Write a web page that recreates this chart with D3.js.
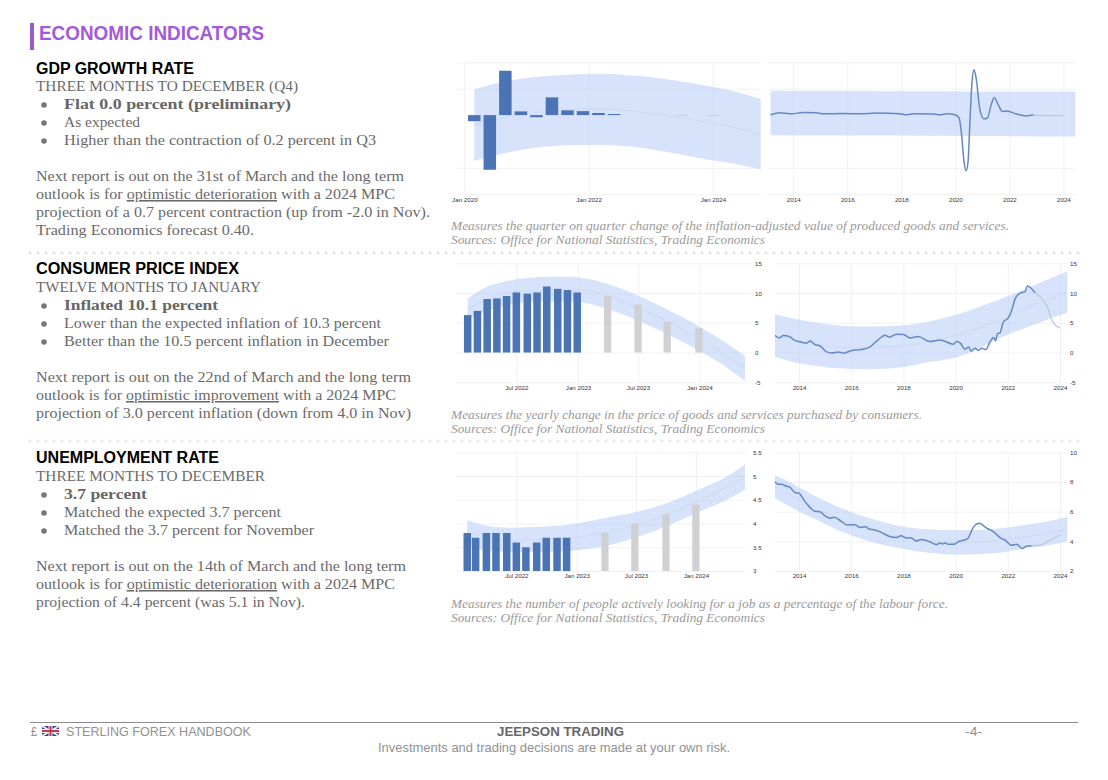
<!DOCTYPE html>
<html><head><meta charset="utf-8">
<script src="https://cdn.jsdelivr.net/npm/d3@7/dist/d3.min.js"></script>
<style>
html,body{margin:0;padding:0;background:#fff;overflow:hidden}
svg{display:block}
.tick text{font-family:"Liberation Sans",sans-serif;fill:#3a3340}
</style></head><body>
<svg id="page" width="1108" height="780"></svg>
<script>
// ---------- GDP ----------
const gdpBarYears=[2020.16,2020.41,2020.66,2020.91,2021.16,2021.41,2021.66,2021.91,2022.16,2022.41];
const gdpBarValues=[-2.3,-20.7,16.8,1.4,-0.8,6.7,1.8,1.5,0.8,0.4];
const gdpForecastYears=[2023.49,2024.0];
const gdpForecastValues=[-0.35,-0.35];
const gdpBandLeftYears=[2020.16,2020.58,2021.11,2021.65,2022.19,2022.73,2023.26,2023.80,2024.34,2024.77];
const gdpBandLeftUpper=[9.6,12.4,14.3,15.3,15.7,15.0,13.6,11.5,9.0,6.1];
const gdpBandLeftLower=[-17.3,-14.8,-12.5,-11.4,-11.2,-12.1,-14.0,-16.3,-18.4,-20.6];
const gdpTrendLeftYears=[2020.16,2021.11,2022.19,2023.26,2024.34,2024.77];
const gdpTrendLeftValues=[-3.8,0.9,2.3,-0.3,-4.7,-7.2];
const gdpLineYears=[2013.16,2013.51,2013.94,2014.37,2014.86,2015.11,2015.85,2016.47,2017.09,2017.95,2018.2,2018.44,2019.19,2019.44,2019.68,2019.99,2020.14,2020.23,2020.32,2020.4,2020.47,2020.54,2020.62,2020.69,2020.77,2020.91,2021.06,2021.19,2021.31,2021.44,2021.59,2021.74,2021.9,2022.27,2022.64,2022.89];
const gdpLineValues=[0.1,0.9,0.5,1.0,0.9,0.5,0.6,0.5,0.8,0.5,0.1,0.5,0.4,0.1,0.5,0.1,-1.1,-7.4,-17.6,-21.1,-17.6,-2.4,12.8,17.2,14,2.0,-1.4,-1.1,3.3,6.7,3.9,1.4,1.6,0.4,-0.3,0.1];
const gdpLineForecastYears=[2022.89,2024.01];
const gdpLineForecastValues=[-0.1,-0.25];
const gdpBandRightYears=[2013.16,2016,2019,2022,2024.44];
const gdpBandRightUpper=[9.2,9.1,9.0,8.9,8.9];
const gdpBandRightLower=[-7.6,-7.7,-7.8,-8.0,-8.1];
const gdpXLabelsLeft=[[2020,"Jan 2020"],[2022,"Jan 2022"],[2024,"Jan 2024"]];
// ---------- CPI ----------
const cpiBarYears=[2022.10,2022.18,2022.26,2022.34,2022.42,2022.5,2022.59,2022.67,2022.75,2022.84,2022.92,2023.0];
const cpiBarValues=[6.3,7.0,9.0,9.1,9.5,10.1,9.9,10.1,11.1,10.7,10.5,10.1];
const cpiForecastYears=[2023.25,2023.5,2023.74,2024.0];
const cpiForecastValues=[9.5,8.1,5.2,4.1];
const cpiBandLeftYears=[2022.10,2022.23,2022.37,2022.50,2022.67,2022.86,2023.05,2023.24,2023.46,2023.74,2024.01,2024.23,2024.38];
const cpiBandLeftUpper=[9.08,10.76,11.76,12.32,12.66,12.77,12.55,11.6,9.92,7.23,4.31,1.51,-0.62];
const cpiBandLeftLower=[5.55,6.72,7.68,8.24,8.52,8.63,8.35,7.39,5.71,3.08,0.22,-2.52,-4.82];
const cpiTrendLeftYears=[2022.10,2022.5,2023.05,2023.46,2024.01,2024.38];
const cpiTrendLeftValues=[7.3,10.3,10.45,7.8,2.25,-2.7];
const cpiLineYears=[2013.08,2013.25,2013.40,2013.66,2013.78,2014.10,2014.29,2014.42,2014.61,2014.80,2015.06,2015.25,2015.51,2015.70,2016.02,2016.27,2016.46,2016.72,2017.04,2017.29,2017.46,2017.74,2018.00,2018.25,2018.57,2019.02,2019.40,2019.91,2020.04,2020.17,2020.36,2020.51,2020.59,2020.74,2020.87,2021.00,2021.16,2021.32,2021.45,2021.54,2021.60,2021.70,2021.83,2022.02,2022.15,2022.28,2022.49,2022.66,2022.75,2023.04];
const cpiLineValues=[2.86,2.46,2.86,2.63,2.18,1.74,1.57,1.96,1.34,1.12,0.11,-0.06,0.11,-0.11,0.34,0.45,0.56,0.95,2.18,2.91,2.58,3.08,3.03,2.46,2.69,1.85,2.13,1.40,1.85,1.62,0.56,0.95,0.22,0.73,0.39,0.73,0.50,1.79,2.52,1.96,3.19,3.31,5.15,5.83,7.11,9.02,10.03,10.2,11.2,10.08];
const cpiLineForecastYears=[2023.04,2023.30,2023.51,2023.72,2024.00];
const cpiLineForecastValues=[10.08,9.08,7.68,5.15,4.09];
const cpiBandRightYears=[2013.08,2013.78,2014.68,2015.70,2016.72,2017.87,2018.89,2020.17,2020.81,2021.45,2022.72,2023.62,2024.28];
const cpiBandRightUpper=[6.44,5.71,4.99,4.48,4.37,4.54,5.15,6.55,7.51,8.52,10.76,12.44,13.67];
const cpiBandRightLower=[-0.73,-1.57,-2.24,-2.69,-2.80,-2.52,-1.68,-0.62,0.56,1.96,4.20,5.71,6.67];
const cpiTrendRightYears=[2013.08,2015.7,2016.72,2018.89,2020.81,2022.72,2024.28];
const cpiTrendRightValues=[2.86,0.9,0.8,1.75,4.0,7.5,10.2];
const halfYearLabelsCpi=[[2022.5,"Jul 2022"],[2023.007,"Jan 2023"],[2023.5,"Jul 2023"],[2024.005,"Jan 2024"]];
const cpiYTicks=[-5,0,5,10,15];
// ---------- Unemployment ----------
const unempBarYears=[2022.09,2022.16,2022.25,2022.33,2022.42,2022.5,2022.58,2022.67,2022.75,2022.84,2022.92];
const unempBarValues=[3.8,3.7,3.8,3.8,3.8,3.6,3.5,3.6,3.7,3.7,3.7];
const unempForecastYears=[2023.24,2023.49,2023.75,2024.0];
const unempForecastValues=[3.8,4.0,4.2,4.4];
const unempBandLeftYears=[2022.09,2022.22,2022.36,2022.50,2022.67,2022.95,2023.25,2023.48,2023.76,2024.03,2024.26,2024.41];
const unempBandLeftUpper=[4.07,3.97,3.92,3.91,3.93,3.98,4.12,4.23,4.43,4.72,4.99,5.25];
const unempBandLeftLower=[3.53,3.44,3.41,3.40,3.40,3.42,3.53,3.69,3.95,4.25,4.50,4.71];
const unempTrendLeftYears=[2022.09,2022.5,2022.95,2023.48,2024.03,2024.41];
const unempTrendLeftValues=[3.8,3.65,3.7,3.96,4.48,4.98];
const unempLineYears=[2013.08,2013.17,2013.34,2013.53,2013.66,2013.85,2014.01,2014.17,2014.42,2014.61,2014.80,2015.00,2015.19,2015.34,2015.63,2015.85,2016.15,2016.34,2016.57,2016.66,2016.91,2017.23,2017.42,2017.74,2017.90,2018.13,2018.32,2018.48,2018.70,2019.02,2019.27,2019.40,2019.50,2019.59,2019.72,2019.94,2020.13,2020.30,2020.46,2020.68,2020.91,2021.19,2021.45,2021.70,2021.89,2022.15,2022.34,2022.56,2022.72,2022.91];
const unempLineValues=[8.02,7.87,7.84,7.71,7.64,7.28,7.24,6.83,6.29,6.02,6.00,5.71,5.55,5.62,5.33,5.10,5.12,4.94,4.98,4.85,4.76,4.54,4.36,4.25,4.38,4.22,4.22,4.02,4.13,3.96,3.78,3.89,3.82,3.89,3.80,3.80,4.0,4.07,4.18,4.94,5.21,4.89,4.65,4.25,4.09,3.73,3.80,3.51,3.69,3.71];
const unempLineForecastYears=[2022.91,2023.23,2023.62,2024.0];
const unempLineForecastValues=[3.71,3.75,4.09,4.43];
const unempBandRightYears=[2013.08,2013.78,2014.68,2015.70,2016.72,2017.87,2018.89,2020.17,2021.45,2022.72,2023.62,2024.28];
const unempBandRightUpper=[8.47,7.87,7.01,6.18,5.55,5.03,4.81,4.74,4.83,5.12,5.37,5.64];
const unempBandRightLower=[6.90,6.22,5.44,4.61,3.98,3.53,3.24,3.10,3.19,3.53,3.75,4.02];
const unempTrendRightYears=[2013.08,2015.7,2017.87,2020.17,2022.72,2024.28];
const unempTrendRightValues=[7.7,5.4,4.3,3.95,4.3,4.85];
const halfYearLabelsUnemp=[[2022.5,"Jul 2022"],[2023.004,"Jan 2023"],[2023.5,"Jul 2023"],[2024.0,"Jan 2024"]];
const unempYTicksLeft=[3,3.5,4,4.5,5,5.5];
const unempYTicksRight=[2,4,6,8,10];
// ---------- shared tick labels ----------
const yearLabels=[[2014,"2014"],[2016,"2016"],[2018,"2018"],[2020,"2020"],[2022,"2022"],[2024,"2024"]];
const gdpYTicks=[-30,-20,10,20];

// ---------- text ----------
const sectionTitle="ECONOMIC INDICATORS";
const headings=[["GDP GROWTH RATE",36,194,73.7],["CONSUMER PRICE INDEX",36,239,273.7],["UNEMPLOYMENT RATE",36,219,462.7]];
const bodyLines=[
 ["THREE MONTHS TO DECEMBER (Q4)",36,298,91],
 ["TWELVE MONTHS TO JANUARY",36,261,292],
 ["THREE MONTHS TO DECEMBER",36,265,481],
 ["As expected",64,140,127],
 ["Higher than the contraction of 0.2 percent in Q3",64,376,145],
 ["Lower than the expected inflation of 10.3 percent",64,381,328],
 ["Better than the 10.5 percent inflation in December",64,389,346],
 ["Matched the expected 3.7 percent",64,281,517],
 ["Matched the 3.7 percent for November",64,314,535],
 ["Next report is out on the 31st of March and the long term",36,404,181],
 ["projection of a 0.7 percent contraction (up from -2.0 in Nov).",36,430,217],
 ["Trading Economics forecast 0.40.",36,254,235],
 ["Next report is out on the 22nd of March and the long term",36,411,382],
 ["projection of 3.0 percent inflation (down from 4.0 in Nov)",36,411,418],
 ["Next report is out on the 14th of March and the long term",36,406,571],
 ["projection of 4.4 percent (was 5.1 in Nov).",36,305,607]
];
const boldLines=[["Flat 0.0 percent (preliminary)",64,291,109],["Inflated 10.1 percent",64,218,310],["3.7 percent",64,147,499]];
const bulletYs=[105,123,141,306,324,342,495,513,531];
const outlookLines=[
 ["outlook is for ","optimistic deterioration"," with a 2024 MPC",36,395,199],
 ["outlook is for ","optimistic improvement"," with a 2024 MPC",36,396,400],
 ["outlook is for ","optimistic deterioration"," with a 2024 MPC",36,395,589]
];
const captions=[
 ["Measures the quarter on quarter change of the inflation-adjusted value of produced goods and services.",1009,230],
 ["Sources: Office for National Statistics, Trading Economics",765,244],
 ["Measures the yearly change in the price of goods and services purchased by consumers.",922,419],
 ["Sources: Office for National Statistics, Trading Economics",765,433],
 ["Measures the number of people actively looking for a job as a percentage of the labour force.",948,608],
 ["Sources: Office for National Statistics, Trading Economics",765,622]
];

const zip=(xs,ys)=>xs.map((x,i)=>[x,ys[i]]);
const charts=[
 {xd:[2019.877,2024.77],xr:[456.7,760.7],yd:[-30,20],yr:[194.3,62.3],xl:gdpXLabelsLeft,yt:gdpYTicks,
  by:gdpBandLeftYears,bu:gdpBandLeftUpper,bl:gdpBandLeftLower,tr:zip(gdpTrendLeftYears,gdpTrendLeftValues),
  bars:zip(gdpBarYears,gdpBarValues),fc:zip(gdpForecastYears,gdpForecastValues),bw:12.5,fw:12.5},
 {xd:[2013.04,2024.44],xr:[767.3,1075.3],yd:[-30,20],yr:[194.3,62.3],xl:yearLabels,yt:gdpYTicks,
  by:gdpBandRightYears,bu:gdpBandRightUpper,bl:gdpBandRightLower,
  line:zip(gdpLineYears,gdpLineValues),lf:zip(gdpLineForecastYears,gdpLineForecastValues)},
 {xd:[2022.004,2024.434],xr:[456,751.7],yd:[-5,15],yr:[382.3,263.3],xl:halfYearLabelsCpi,yt:cpiYTicks,lab:755,
  by:cpiBandLeftYears,bu:cpiBandLeftUpper,bl:cpiBandLeftLower,tr:zip(cpiTrendLeftYears,cpiTrendLeftValues),
  bars:zip(cpiBarYears,cpiBarValues),fc:zip(cpiForecastYears,cpiForecastValues),bw:7.5,fw:7.3},
 {xd:[2013.08,2024.28],xr:[775,1067.3],yd:[-5,15],yr:[382.3,263.3],xl:yearLabels,yt:cpiYTicks,lab:1070,
  by:cpiBandRightYears,bu:cpiBandRightUpper,bl:cpiBandRightLower,tr:zip(cpiTrendRightYears,cpiTrendRightValues),
  line:zip(cpiLineYears,cpiLineValues),lf:zip(cpiLineForecastYears,cpiLineForecastValues)},
 {xd:[2021.996,2024.416],xr:[456,745.7],yd:[3,5.5],yr:[571,452.3],xl:halfYearLabelsUnemp,yt:unempYTicksLeft,lab:753,
  by:unempBandLeftYears,bu:unempBandLeftUpper,bl:unempBandLeftLower,tr:zip(unempTrendLeftYears,unempTrendLeftValues),
  bars:zip(unempBarYears,unempBarValues),fc:zip(unempForecastYears,unempForecastValues),bw:7.5,fw:7.3},
 {xd:[2013.08,2024.28],xr:[775,1067.3],yd:[2,10],yr:[571,452.3],xl:yearLabels,yt:unempYTicksRight,lab:1070,
  by:unempBandRightYears,bu:unempBandRightUpper,bl:unempBandRightLower,tr:zip(unempTrendRightYears,unempTrendRightValues),
  line:zip(unempLineYears,unempLineValues),lf:zip(unempLineForecastYears,unempLineForecastValues)}
];

const svg=d3.select("#page");
const BLUE="#4a74b4",BAND="#b7cdf6",LINE="#6489c2",GRID="#eeeeee";

charts.forEach(c=>{
  const g=svg.append("g");
  const x=d3.scaleLinear().domain(c.xd).range(c.xr);
  const y=d3.scaleLinear().domain(c.yd).range(c.yr);
  const h=c.yr[0]-c.yr[1], w=c.xr[1]-c.xr[0];
  const xVals=c.xl.map(d=>d[0]);
  // grid
  const gx=g.append("g").attr("transform",`translate(0,${c.yr[0]})`)
    .call(d3.axisBottom(x).tickValues(xVals).tickSizeInner(-h).tickSizeOuter(0).tickPadding(3)
      .tickFormat((d,i)=>c.xl[i][1]));
  gx.select(".domain").remove();
  gx.selectAll("line").attr("stroke",GRID).attr("stroke-width",0.8);
  gx.selectAll("text").attr("font-size",6.2);
  const gy=g.append("g").attr("transform",`translate(${c.xr[0]},0)`)
    .call(d3.axisRight(y).tickValues(c.yt).tickSizeInner(w).tickSizeOuter(0).tickFormat(""));
  gy.select(".domain").remove();
  gy.selectAll("line").attr("stroke",GRID).attr("stroke-width",0.8);
  if(c.lab){
    const ly=g.append("g").attr("transform",`translate(${c.lab},0)`)
      .call(d3.axisRight(y).tickValues(c.yt).tickSize(0).tickPadding(0).tickFormat(d=>String(d)));
    ly.select(".domain").remove();
    ly.selectAll("text").attr("font-size",6.2);
  }
  // band
  const area=d3.area().x(d=>x(d.x)).y0(d=>y(d.l)).y1(d=>y(d.u)).curve(d3.curveMonotoneX);
  g.append("path").datum(c.by.map((v,i)=>({x:v,u:c.bu[i],l:c.bl[i]})))
    .attr("d",area).attr("fill",BAND).attr("fill-opacity",0.56);
  const ln=d3.line().x(d=>x(d[0])).y(d=>y(d[1])).curve(d3.curveMonotoneX);
  if(c.tr) g.append("path").datum(c.tr).attr("d",ln).attr("fill","none").attr("stroke","#cbd8f0").attr("stroke-width",0.8);
  // bars
  const base=y(c.yd[0]<0?0:c.yd[0]);
  const bar=(arr,bw,fill,op)=>g.append("g").selectAll("rect").data(arr).join("rect")
    .attr("x",d=>x(d[0])-bw/2).attr("width",bw)
    .attr("y",d=>Math.min(y(d[1]),base))
    .attr("height",d=>Math.abs(y(d[1])-base))
    .attr("fill",fill).attr("fill-opacity",op);
  if(c.fc) bar(c.fc,c.fw,"#cfcfd2",0.95);
  if(c.bars) bar(c.bars,c.bw,BLUE,1);
  // lines
  if(c.lf) g.append("path").datum(c.lf).attr("d",ln).attr("fill","none").attr("stroke","#bcc8da").attr("stroke-width",1.2);
  if(c.line) g.append("path").datum(c.line).attr("d",ln).attr("fill","none").attr("stroke",LINE).attr("stroke-width",1.5).attr("stroke-linejoin","round");
});

// text helper
const SERIF='"Liberation Serif",serif', SANS='"Liberation Sans",sans-serif';
function put(str,x0,x1,yb,o){
  const t=svg.append("text").attr("x",x0).attr("y",yb).text(str)
    .attr("font-family",o.family||SERIF).attr("font-size",o.size||15.5).attr("fill",o.fill||"#6a6a6a")
    .attr("font-weight",o.weight||"normal").attr("font-style",o.style||"normal");
  if(x1) t.attr("textLength",x1-x0).attr("lengthAdjust","spacingAndGlyphs");
  return t;
}
svg.append("rect").attr("x",30).attr("y",23).attr("width",4).attr("height",27).attr("fill","#9b59d0");
put(sectionTitle,39,264,39.7,{family:SANS,size:20,weight:"bold",fill:"#a35ad8"});
headings.forEach(d=>put(d[0],d[1],d[2],d[3],{family:SANS,size:16,weight:"bold",fill:"#000"}));
bodyLines.forEach(d=>put(d[0],d[1],d[2],d[3],{}));
boldLines.forEach(d=>put(d[0],d[1],d[2],d[3],{weight:"bold",fill:"#666"}));
svg.append("g").selectAll("circle").data(bulletYs).join("circle")
  .attr("cx",44).attr("cy",d=>d).attr("r",2.8).attr("fill","#777");
outlookLines.forEach(d=>{
  const t=svg.append("text").attr("x",d[3]).attr("y",d[5]).attr("font-family",SERIF).attr("font-size",15.5).attr("fill","#6a6a6a")
    .attr("textLength",d[4]-d[3]).attr("lengthAdjust","spacingAndGlyphs");
  t.append("tspan").text(d[0]);
  t.append("tspan").text(d[1]).attr("text-decoration","underline");
  t.append("tspan").text(d[2]);
});
captions.forEach(d=>put(d[0],451,d[1],d[2],{size:12.5,style:"italic",fill:"#9a9a9a"}));

// dotted separators
[253,441].forEach(yy=>svg.append("line").attr("x1",30).attr("x2",1079).attr("y1",yy).attr("y2",yy)
  .attr("stroke","#e2e2e2").attr("stroke-width",3).attr("stroke-linecap","round").attr("stroke-dasharray","0 8"));

// footer
svg.append("line").attr("x1",30).attr("x2",1078).attr("y1",722.5).attr("y2",722.5).attr("stroke","#8c8c8c").attr("stroke-width",1);
put("£",31,37,736,{family:SANS,size:13,fill:"#888"});
const fl=svg.append("g").attr("transform","translate(42,726)");
fl.append("rect").attr("width",17).attr("height",10).attr("fill","#3a3f86");
[[0,0,17,10],[17,0,0,10]].forEach(a=>fl.append("line").attr("x1",a[0]).attr("y1",a[1]).attr("x2",a[2]).attr("y2",a[3]).attr("stroke","#eee").attr("stroke-width",2));
fl.append("rect").attr("x",6.5).attr("width",4).attr("height",10).attr("fill","#eee");
fl.append("rect").attr("y",3).attr("width",17).attr("height",4).attr("fill","#eee");
fl.append("rect").attr("x",7.5).attr("width",2).attr("height",10).attr("fill","#c8384a");
fl.append("rect").attr("y",4).attr("width",17).attr("height",2).attr("fill","#c8384a");
put("STERLING FOREX HANDBOOK",66,251,736,{family:SANS,size:13.5,fill:"#919191"});
put("JEEPSON TRADING",497,624,736,{family:SANS,size:13.5,weight:"bold",fill:"#666"});
put("-4-",965,982,736,{family:SANS,size:13.5,fill:"#919191"});
put("Investments and trading decisions are made at your own risk.",378,730,752,{family:SANS,size:13.5,fill:"#919191"});
</script>
</body></html>
